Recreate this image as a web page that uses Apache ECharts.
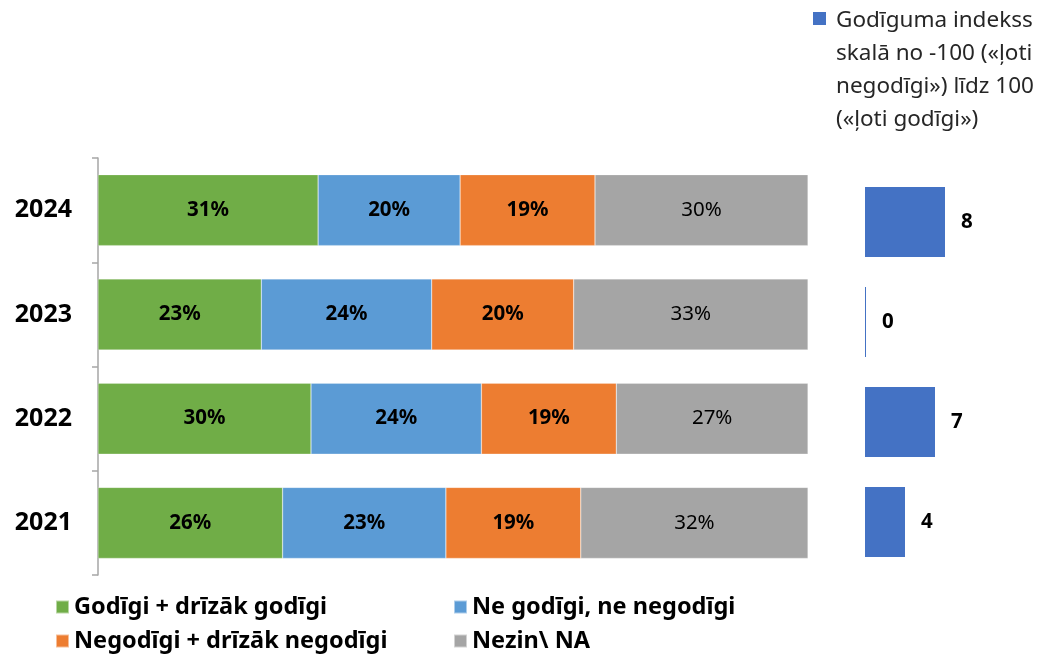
<!DOCTYPE html>
<html>
<head>
<meta charset="utf-8">
<script src="https://cdn.jsdelivr.net/npm/echarts@6/dist/echarts.min.js"></script>
<style>
  html, body { margin: 0; padding: 0; background: #fff; }
  #chart { width: 1044px; height: 657px; }
</style>
</head>
<body>
<div id="chart"></div>
<script>
// dati (no apakšas uz augšu)
const years = ['2021', '2022', '2023', '2024']
const honest = [26, 30, 23, 31]
const neutral = [23, 24, 24, 20]
const dishonest = [19, 19, 20, 19]
const dontKnow = [32, 27, 33, 30]
const indexValues = [4, 7, 0, 8]

const seriesNames = ['Godīgi + drīzāk godīgi', 'Ne godīgi, ne negodīgi', 'Negodīgi + drīzāk negodīgi', 'Nezin\\ NA']
const seriesColors = ['#70AD47', '#5B9BD5', '#ED7D31', '#A5A5A5']
const indexName = 'Godīguma indekss skalā no -100 («ļoti negodīgi») līdz 100 («ļoti godīgi»)'
const font = '"Noto Sans", sans-serif'

const chart = echarts.init(document.getElementById('chart'))

function stackSeries (name, data, color, bold) {
  return {
    name: name,
    type: 'bar',
    stack: 'total',
    xAxisIndex: 0,
    yAxisIndex: 0,
    barWidth: 71,
    data: data,
    itemStyle: { color: color, borderColor: 'rgba(255,255,255,0.5)', borderWidth: 0.5 },
    label: {
      show: true,
      position: 'inside',
      formatter: '{c}%',
      color: '#000',
      fontFamily: font,
      fontSize: 20.5,
      fontWeight: bold ? 'bold' : 'normal'
    }
  }
}

const option = {
  animation: false,
  backgroundColor: '#fff',
  legend: {
    data: seriesNames,
    left: 55,
    top: 595,
    width: 820,
    padding: 0,
    itemWidth: 13,
    itemHeight: 13,
    itemGap: 10,
    icon: 'rect',
    textStyle: { fontFamily: font, fontSize: 23.5, fontWeight: 'bold', color: '#000', width: 369, lineHeight: 24 }
  },
  grid: [
    { left: 98, top: 158, width: 710, height: 417 },
    { left: 865, top: 172, width: 100, height: 400 }
  ],
  xAxis: [
    { gridIndex: 0, type: 'value', min: 0, max: 100, show: false },
    { gridIndex: 1, type: 'value', min: 0, max: 10, show: false }
  ],
  yAxis: [
    {
      gridIndex: 0,
      type: 'category',
      data: years,
      axisLine: { show: true, lineStyle: { color: '#A6A6A6', width: 1.5 } },
      axisTick: { show: true, length: 6, lineStyle: { color: '#A6A6A6', width: 1.5 } },
      axisLabel: { margin: 26, color: '#000', fontFamily: font, fontSize: 25, fontWeight: 'bold' }
    },
    { gridIndex: 1, type: 'category', data: years, show: false }
  ],
  series: [
    stackSeries(seriesNames[0], honest, seriesColors[0], true),
    stackSeries(seriesNames[1], neutral, seriesColors[1], true),
    stackSeries(seriesNames[2], dishonest, seriesColors[2], true),
    stackSeries(seriesNames[3], dontKnow, seriesColors[3], false),
    {
      name: indexName,
      type: 'bar',
      xAxisIndex: 1,
      yAxisIndex: 1,
      barWidth: 70,
      barMinHeight: 1,
      data: indexValues,
      itemStyle: { color: '#4472C4' },
      label: {
        show: true,
        position: 'right',
        distance: 16,
        color: '#000',
        fontFamily: font,
        fontSize: 20.5,
        fontWeight: 'bold'
      }
    }
  ],
  graphic: [
    { type: 'rect', left: 813, top: 12, shape: { width: 13, height: 13 }, style: { fill: '#4472C4' } },
    {
      type: 'text',
      left: 836,
      top: 4,
      style: {
        text: 'Godīguma indekss\nskalā no -100 («ļoti\nnegodīgi») līdz 100\n(«ļoti godīgi»)',
        fontFamily: font,
        fontSize: 22.5,
        lineHeight: 33,
        fill: '#262626'
      }
    }
  ]
}

chart.setOption(option)
</script>
</body>
</html>
